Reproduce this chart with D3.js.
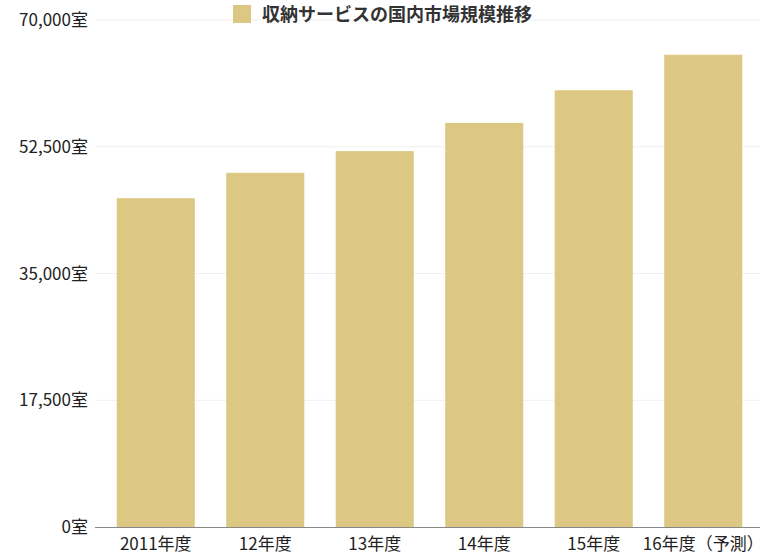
<!DOCTYPE html>
<html><head><meta charset="utf-8">
<script src="https://cdn.jsdelivr.net/npm/d3@7"></script>
<style>body{margin:0;background:#fff}svg{font-family:"Noto Sans CJK JP","Noto Sans",sans-serif}</style>
</head><body>
<svg id="c" width="775" height="557"></svg>
<script>
const categories=["2011年度","12年度","13年度","14年度","15年度","16年度（予測）"];
const values=[45400,48900,51900,55800,60300,65200];
const yTicks=[0,17500,35000,52500,70000];
const title="収納サービスの国内市場規模推移";
const color="#dcc882";
const svg=d3.select("#c");
const x=d3.scaleBand().domain(categories).range([101,758]).paddingInner(0.287).paddingOuter(0.1435);
const y=d3.scaleLinear().domain([0,70000]).range([527,20]);
svg.append("g").selectAll("line").data(yTicks.slice(1)).join("line")
 .attr("x1",95).attr("x2",760).attr("y1",d=>y(d)).attr("y2",d=>y(d)).attr("stroke","#f0f0f0");
svg.append("g").selectAll("rect").data(values).join("rect")
 .attr("x",(d,i)=>x(categories[i])).attr("width",x.bandwidth())
 .attr("y",d=>y(d)).attr("height",d=>y(0)-y(d)).attr("fill",color);
svg.append("line").attr("x1",95).attr("x2",760).attr("y1",y(0)+0.5).attr("y2",y(0)+0.5).attr("stroke","#888");
svg.append("g").selectAll("text").data(yTicks).join("text")
 .attr("x",88).attr("y",d=>y(d)+6).attr("text-anchor","end").attr("font-size",17).attr("fill","#222")
 .text(d=>d3.format(",")(d)+"室");
svg.append("g").selectAll("text").data(categories).join("text")
 .attr("x",d=>x(d)+x.bandwidth()/2).attr("y",550).attr("text-anchor","middle").attr("font-size",17).attr("fill","#222")
 .text(d=>d);
svg.append("rect").attr("x",233).attr("y",5).attr("width",18).attr("height",18).attr("fill",color);
svg.append("text").attr("x",262).attr("y",21).attr("font-size",18).attr("font-weight","bold").attr("fill","#333").text(title);
</script></body></html>
